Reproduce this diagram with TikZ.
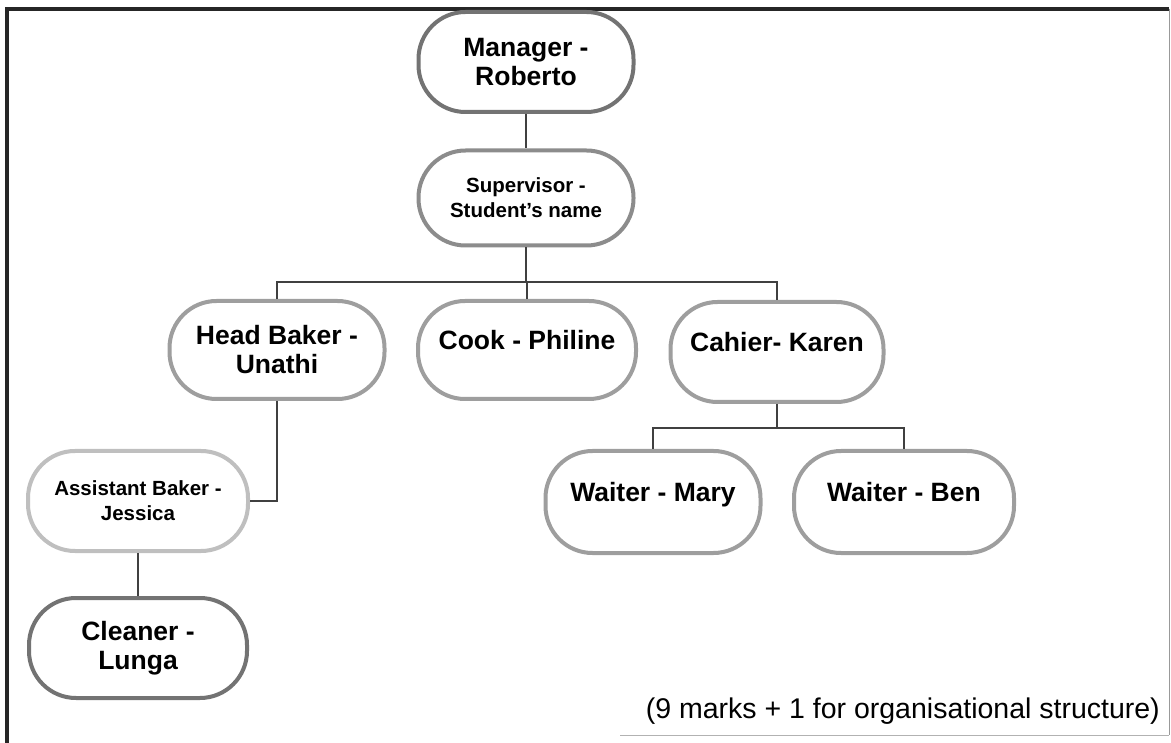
\documentclass[tikz,border=0pt]{standalone}
\usepackage{fontspec}
\setmainfont{Liberation Sans}
\newcommand\upline[1]{\raisebox{7pt}[19pt][6pt]{#1}}
\begin{document}
\begin{tikzpicture}[x=1pt,y=-1pt,
  box/.style={rectangle, rounded corners=47pt, line width=4pt, fill=white,
    inner sep=0pt, minimum width=215pt, minimum height=98pt, align=center,
    font=\fontsize{26.5}{29}\selectfont\bfseries},
  smallbox/.style={box, font=\fontsize{20.5}{25}\selectfont\bfseries},
  conn/.style={draw=black!75, line width=1.3pt}]
\useasboundingbox (0,0) rectangle (1171,743);
% frame
\draw[line width=3.5pt, black!85] (7,743) -- (7,9) -- (1169,9);
\draw[line width=1pt, black!40] (1169,9) -- (1169,735);
\draw[line width=1pt, black!30] (620,735) -- (1169,735);
% nodes
\node[box, draw=black!55, minimum width=215pt, minimum height=100pt] (mgr) at (526,62) {Manager -\\Roberto};
\node[smallbox, draw=black!45, minimum width=215pt, minimum height=95pt] (sup) at (526,198) {Supervisor -\\Student's name};
\node[box, draw=black!38] (head) at (277,350) {Head Baker -\\Unathi};
\node[box, draw=black!38, minimum width=218pt] (cook) at (527,350) {\upline{Cook - Philine}};
\node[box, draw=black!38, minimum width=213pt, minimum height=100pt] (cash) at (777,352) {\upline{Cahier- Karen}};
\node[box, draw=black!38, minimum height=102pt] (mary) at (653,502) {\upline{Waiter - Mary}};
\node[box, draw=black!38, minimum width=220pt, minimum height=102pt] (ben) at (904,502) {\upline{Waiter - Ben}};
\node[smallbox, draw=black!25, minimum width=220pt, minimum height=100pt] (asst) at (138,501) {Assistant Baker -\\Jessica};
\node[box, draw=black!55, minimum width=218pt, minimum height=100pt] (clean) at (138,648) {Cleaner -\\Lunga};
% connectors
\coordinate (bus1) at (526,282);
\coordinate (bus2) at (777,428);
\draw[conn] (mgr.south) -- (sup.north);
\draw[conn] (sup.south) -- (bus1) -| (cook.north);
\draw[conn] (head.north) |- (bus1) -| (cash.north);
\draw[conn] (cash.south) -- (bus2);
\draw[conn] (mary.north) |- (bus2) -| (ben.north);
\draw[conn] (head.south) |- (asst.east);
\draw[conn] (asst.south) -- (clean.north);
% footer
\node[anchor=base east, inner sep=0pt, font=\fontsize{28.5}{32}\selectfont] (foot) at (1160,718) {(9 marks + 1 for organisational structure)};
\end{tikzpicture}
\end{document}
